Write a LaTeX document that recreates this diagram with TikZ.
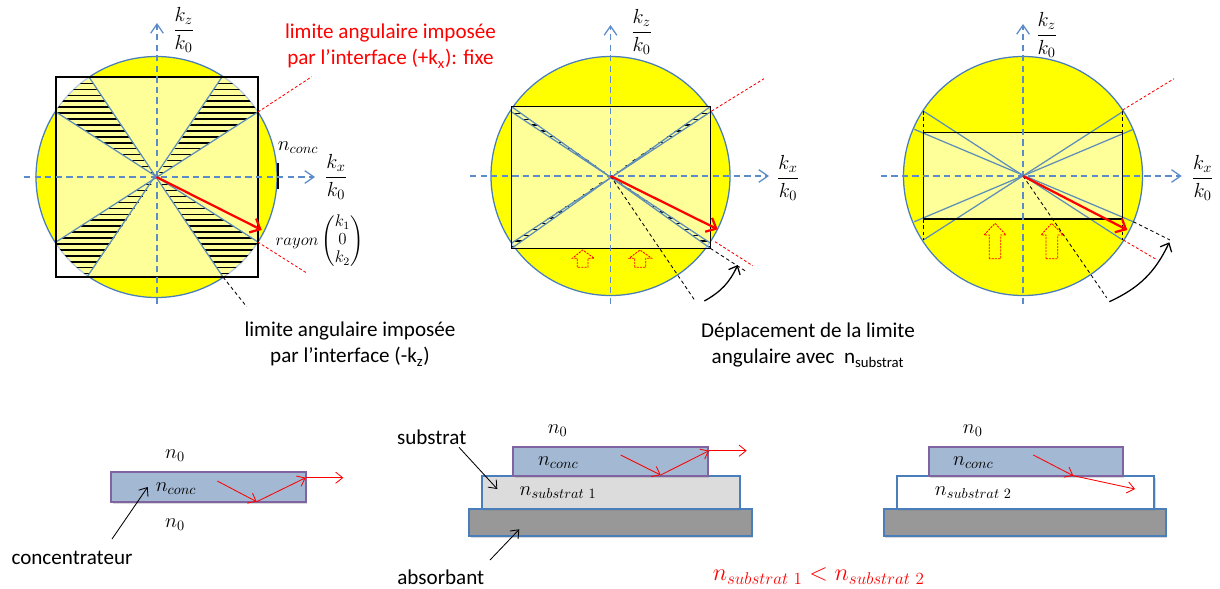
\documentclass[tikz,border=0pt]{standalone}
\usepackage{fix-cm}
\usepackage{amsmath}
\usepackage{fontspec}
\setmainfont{Carlito}
\usetikzlibrary{arrows.meta,shadows}
\definecolor{axisblue}{HTML}{5B8BC9}
\definecolor{rimblue}{HTML}{4A7EBB}
\definecolor{wedgeblue}{HTML}{5F8FB8}
\definecolor{disc}{HTML}{FFFF00}
\definecolor{concfill}{HTML}{A3B8D3}
\definecolor{concedge}{HTML}{8064A2}
\definecolor{absfill}{HTML}{989898}
\definecolor{subfill}{HTML}{DCDCDC}
\tikzset{
	txt/.style={font=\fontsize{15}{19}\selectfont, inner sep=0pt, align=center},
	mth/.style={font=\fontsize{14.5}{17}\selectfont, inner sep=0pt},
	sphere/.style={draw=rimblue, line width=.9pt, fill=disc},
	lens/.style={draw=black, line width=1.1pt, fill=white, fill opacity=.6},
	axis/.style={axisblue, line width=.9pt, dash pattern=on 4.5pt off 3pt, -{Straight Barb[length=6.5pt,width=9pt]}},
	wedge/.style={wedgeblue, line width=.9pt},
	bar/.style={black, line width=1pt},
	limred/.style={red, line width=.6pt, dash pattern=on 2pt off 1.5pt},
	limblack/.style={black, line width=.6pt, dash pattern=on 2.5pt off 2pt},
	rayon/.style={red, line width=1.6pt, -{Straight Barb[length=6pt,width=11pt]}},
	push/.style={red, line width=.6pt, dash pattern=on 1.5pt off .8pt},
	swing/.style={black, line width=.9pt, -{Straight Barb[length=5pt,width=9pt]}},
	fine/.style={red, line width=.6pt, -{Straight Barb[length=5pt,width=8pt]}},
	callout/.style={black, line width=.6pt, -{Straight Barb[length=5pt,width=8pt]}},
	slab/.style={line width=1.3pt, drop shadow={opacity=.3, shadow xshift=1.2pt, shadow yshift=-1.2pt}},
	conc/.style={slab, draw=concedge, fill=concfill},
	subs/.style={slab, draw=rimblue},
	abso/.style={slab, draw=rimblue, fill=absfill},
}
\begin{document}
\begin{tikzpicture}[x=.025cm, y=-.025cm]
	\useasboundingbox (0,0) rectangle (1220,588);

	\coordinate (O1) at (156.5,177);
	\coordinate (O2) at (610.5,176);
	\coordinate (O3) at (1023,176);

	\draw[sphere] (O1) circle (120.5);
	\draw[lens] (56,77) rectangle (258,277);
	\begin{scope}
		\clip (O1) circle (120.5);
		\clip (O1) -- (89,77) -- (56,77) -- (56,112) -- cycle
			(O1) -- (222,77) -- (258,77) -- (258,112) -- cycle
			(O1) -- (56,242) -- (56,277) -- (87,277) -- cycle
			(O1) -- (223,277) -- (258,277) -- (258,242) -- cycle;
		\foreach \h in {0,...,32} {
			\draw[bar] (30,83.3+5.95*\h) -- (290,83.3+5.95*\h);
		}
	\end{scope}
	\draw[wedge] (89,77) -- (223,277);
	\draw[wedge] (222,77) -- (87,277);
	\draw[wedge] (56,112) -- (258,242);
	\draw[wedge] (258,112) -- (56,242);
	\draw[black, line width=1.1pt] (56,77) rectangle (258,277);
	\draw[black, line width=1.6pt] (278,163) -- (278,189);
	\draw[limred] (258,112) -- (311.7,76.7);
	\draw[limred] (257.7,242) -- (306.7,273);
	\draw[limblack] (223,277) -- (246.7,306.7);
	\draw[axis] (24,177) -- (315,177);
	\draw[axis] (157,304) -- (157,23);
	\draw[rayon] (O1) -- (261.7,230);

	\draw[sphere] (O2) circle (119.5);
	\draw[lens] (511.7,106.7) rectangle (710.3,248.3);
	\begin{scope}
		\clip (O2) -- (511.7,106.7) -- (511.7,112) -- cycle
			(O2) -- (710.3,106.7) -- (710.3,112) -- cycle
			(O2) -- (511.7,248.3) -- (511.7,243) -- cycle
			(O2) -- (710.3,248.3) -- (710.3,243) -- cycle;
		\foreach \h in {0,...,24} {
			\draw[bar] (480,113.5+5.8*\h) -- (740,113.5+5.8*\h);
		}
	\end{scope}
	\draw[wedge] (511.7,106.7) -- (710.3,248.3);
	\draw[wedge] (710.3,106.7) -- (511.7,248.3);
	\draw[wedge] (511.7,112) -- (710.3,243);
	\draw[wedge] (710.3,112) -- (511.7,243);
	\draw[black, line width=1.1pt] (511.7,106.7) rectangle (710.3,248.3);
	\draw[limred] (711.7,111) -- (764,78.7);
	\draw[limred] (715,241.7) -- (752.7,265.7);
	\draw[limblack] (O2) -- (695.7,301.7);
	\draw[limblack] (710.3,248.3) -- (745,270.7);
	\draw[push] (577.3,267.3) -- (577.3,258.3) -- (572.3,258.3) -- (582.7,250) -- (594.3,258.3) -- (588,258.3) -- (588,267.3) -- cycle;
	\draw[push] (634.7,267.3) -- (634.7,258.3) -- (629,258.3) -- (640,250) -- (651.7,258.3) -- (645.7,258.3) -- (645.7,267.3) -- cycle;
	\draw[swing] (704.3,301) to[bend right=18] (737.7,265);
	\draw[axis] (470,176) -- (769,176);
	\draw[axis] (610.5,304) -- (610.5,25);
	\draw[rayon] (O2) -- (717.7,229.3);

	\draw[sphere] (O3) circle (119.5);
	\draw[lens] (923.3,132.3) rectangle (1122.7,219);
	\draw[wedge] (923.3,111) -- (1122.7,240);
	\draw[wedge] (1122.7,111.7) -- (923.3,240);
	\draw[wedge] (914.3,129.3) -- (1133.3,221.7);
	\draw[wedge] (1133.3,129.3) -- (914.3,221.7);
	\draw[black, line width=1.1pt] (923.3,132.3) rectangle (1122.7,219);
	\draw[limblack] (923.3,111) -- (923.3,132.3);
	\draw[limblack] (923.3,219) -- (923.3,240);
	\draw[limblack] (1122.7,111) -- (1122.7,132.3);
	\draw[limblack] (1122.7,219) -- (1122.7,240);
	\draw[limred] (1122.7,110) -- (1174,78.7);
	\draw[limred] (1123.3,240) -- (1157.3,260);
	\draw[limblack] (O3) -- (1106.7,297.7);
	\draw[limblack] (1133.3,221.7) -- (1170,240);
	\draw[push] (989.3,258.7) -- (989.3,235) -- (984,235) -- (995,223.3) -- (1006,235) -- (1000.7,235) -- (1000.7,258.7) -- cycle;
	\draw[push] (1046,258.7) -- (1046,235) -- (1041,235) -- (1051.7,223.3) -- (1063.3,235) -- (1057.7,235) -- (1057.7,258.7) -- cycle;
	\draw[swing] (1109.3,301.7) to[bend right=20] (1169.3,242.3);
	\draw[axis] (880.7,176) -- (1181.7,176);
	\draw[axis] (1023,304) -- (1023,24);
	\draw[rayon] (O3) -- (1127.3,230);

	\node[mth] (kz1) at (183.7,30){$\dfrac{k_z}{k_0}$};
	\node[mth] (kx1) at (336,177){$\dfrac{k_x}{k_0}$};
	\node[mth] (kz2) at (641.7,32){$\dfrac{k_z}{k_0}$};
	\node[mth] (kx2) at (788,178){$\dfrac{k_x}{k_0}$};
	\node[mth] (kz3) at (1046.7,35){$\dfrac{k_z}{k_0}$};
	\node[mth] (kx3) at (1202.7,178){$\dfrac{k_x}{k_0}$};
	\node[mth] (nc1) at (298,148){$n_{conc}$};
	\node[mth, font=\fontsize{12}{14.5}\selectfont] (ray) at (319.5,241){\renewcommand{\arraystretch}{.88}$rayon\begin{pmatrix}k_1\\0\\k_2\end{pmatrix}$};

	\node[txt, red] (limx) at (390.5,46){limite angulaire imposée\\par l’interface (+k\textsubscript{x}): fixe};
	\node[txt] (limz) at (350,344){limite angulaire imposée\\par l’interface (-k\textsubscript{z})};
	\node[txt] (depl) at (808,345){Déplacement de la limite\\angulaire avec \ n\textsubscript{substrat}};

	\draw[conc] (111.3,472.3) rectangle (305.7,502);
	\node[mth] (n01) at (175,456){$n_0$};
	\node[mth] (n02) at (175,525){$n_0$};
	\node[mth] (nc2) at (176,489){$n_{conc}$};
	\node[txt] (concentrateur) at (72,558){concentrateur};
	\coordinate (c1a) at (147.7,487);
	\coordinate (c1b) at (112,539);
	\draw[callout] (c1b) -- (c1a);
	\coordinate (r1a) at (217.3,481);
	\coordinate (r1b) at (256.7,501.7);
	\coordinate (r1c) at (305.7,477.7);
	\coordinate (r1d) at (343.3,477.7);
	\draw[fine] (r1a) -- (r1b);
	\draw[fine] (r1b) -- (r1c);
	\draw[fine] (r1c) -- (r1d);

	\draw[abso] (469.3,509) rectangle (751.7,536);
	\draw[subs, fill=subfill] (481.7,476) rectangle (739.7,509);
	\draw[conc] (513.3,447.3) rectangle (707.7,476);
	\node[mth] (n03) at (557.7,430.7){$n_0$};
	\node[mth] (nc3) at (558.3,463){$n_{conc}$};
	\node[mth] (ns1) at (558,493){$n_{substrat\ 1}$};
	\node[txt] (substrat) at (431.7,437){substrat};
	\node[txt] (absorbant) at (440.8,577){absorbant};
	\coordinate (s1a) at (459,447.3);
	\coordinate (s1b) at (497.3,489);
	\draw[callout] (s1a) -- (s1b);
	\coordinate (a1a) at (490,560);
	\coordinate (a1b) at (519.3,529.3);
	\draw[callout] (a1a) -- (a1b);
	\coordinate (r2a) at (620.7,455);
	\coordinate (r2b) at (660.7,475);
	\coordinate (r2c) at (709,450.7);
	\coordinate (r2d) at (746.7,450.7);
	\draw[fine] (r2a) -- (r2b);
	\draw[fine] (r2b) -- (r2c);
	\draw[fine] (r2c) -- (r2d);

	\draw[abso] (883.7,509) rectangle (1165.7,536);
	\draw[subs, fill=white] (896.7,476) rectangle (1154.3,509);
	\draw[conc] (928.7,447.3) rectangle (1122.7,476);
	\node[mth] (n04) at (972.7,430.7){$n_0$};
	\node[mth] (nc4) at (973.3,463){$n_{conc}$};
	\node[mth] (ns2) at (973.3,493){$n_{substrat\ 2}$};
	\coordinate (r3a) at (1033.3,455);
	\coordinate (r3b) at (1073.3,475.7);
	\coordinate (r3c) at (1135,489);
	\draw[fine] (r3a) -- (r3b);
	\draw[fine] (r3b) -- (r3c);

	\node[mth, red, font=\fontsize{17.3}{21}\selectfont] (ineq) at (818.7,576){$n_{substrat\ 1} < n_{substrat\ 2}$};
\end{tikzpicture}
\end{document}
